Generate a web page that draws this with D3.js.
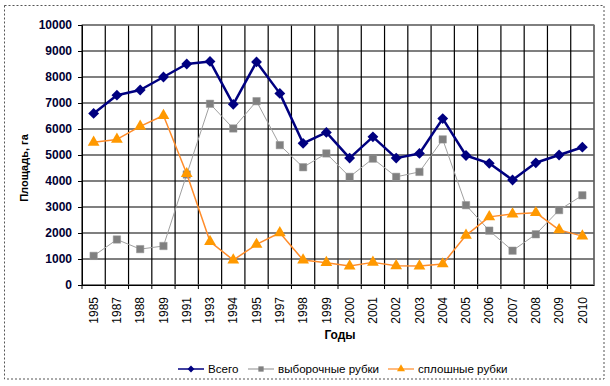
<!DOCTYPE html>
<html><head><meta charset="utf-8">
<script src="https://cdn.jsdelivr.net/npm/d3@7"></script>
<style>body{margin:0;background:#fff}svg{display:block}</style>
</head><body>
<script>
const years = ["1985","1987","1988","1989","1991","1993","1994","1995","1997","1998","1999","2000","2001","2002","2003","2004","2005","2006","2007","2008","2009","2010"];
const total = [6600,7300,7500,8000,8500,8600,6950,8580,7370,5450,5870,4880,5700,4880,5060,6400,4980,4680,4040,4700,5000,5300];
const selective = [1120,1750,1380,1500,4250,6970,6020,7070,5380,4530,5060,4160,4860,4160,4350,5600,3070,2090,1320,1950,2880,3450];
const clear = [5490,5600,6100,6520,4280,1670,960,1560,2010,960,860,730,870,740,730,810,1910,2620,2730,2780,2120,1880];
const yTicks = [0,1000,2000,3000,4000,5000,6000,7000,8000,9000,10000];
const seriesNames = ["Всего","выборочные рубки","сплошные рубки"];

const W=610,H=386;
const svg=d3.select("body").append("svg").attr("width",W).attr("height",H);
const L=82,R=594,T=25,B=285;
const x=d3.scaleBand().domain(years).range([L,R]);
const y=d3.scaleLinear().domain([0,10000]).range([B,T]);

// chart border
svg.append("rect").attr("x",4.5).attr("y",5.5).attr("width",599.5).attr("height",373.5)
  .attr("fill","none").attr("stroke","#555").attr("stroke-dasharray","2,2");

// grid
const g=svg.append("g");
g.selectAll(".hg").data(yTicks).join("line")
  .attr("x1",L).attr("x2",R).attr("y1",d=>y(d)).attr("y2",d=>y(d))
  .attr("stroke","#000").attr("stroke-width",1.2);
const bounds=years.map(d=>x(d)).concat([R]);
g.selectAll(".vg").data(bounds).join("line")
  .attr("x1",d=>d).attr("x2",d=>d).attr("y1",T).attr("y2",B)
  .attr("stroke","#000").attr("stroke-width",1.2);
svg.append("rect").attr("x",L).attr("y",T).attr("width",R-L).attr("height",B-T)
  .attr("fill","none").attr("stroke","#808080").attr("stroke-width",1.2);

// y axis
const ya=d3.axisLeft(y).tickValues(yTicks).tickSize(4).tickFormat(d3.format("d"));
const yg=svg.append("g").attr("transform",`translate(${L},0)`).call(ya);
yg.select(".domain").attr("stroke","#000");
yg.selectAll(".tick line").attr("stroke","#000");
yg.selectAll("text").attr("font-family","Arial, 'Liberation Sans', sans-serif").attr("font-size","12px")
  .attr("font-weight","bold").attr("fill","#000033").attr("dx","-3");

// x axis
const xa=d3.axisBottom(x).tickSize(4).tickSizeOuter(0);
const xg=svg.append("g").attr("transform",`translate(0,${B})`).call(xa);
xg.select(".domain").attr("stroke","#000");
xg.selectAll(".tick line").attr("stroke","#000").attr("transform",d=>`translate(${-x.bandwidth()/2},0)`);
xg.selectAll("text").attr("font-family","Arial, 'Liberation Sans', sans-serif").attr("font-size","12px")
  .attr("fill","#000").attr("transform","rotate(-90)").attr("text-anchor","end")
  .attr("x",-12).attr("y",0).attr("dy","0.35em");

// titles
svg.append("text").attr("transform","translate(28,168) rotate(-90)").attr("text-anchor","middle")
  .attr("font-family","Arial, 'Liberation Sans', sans-serif").attr("font-size","11px").attr("font-weight","bold")
  .text("Площадь, га");
svg.append("text").attr("x",340).attr("y",339).attr("text-anchor","middle")
  .attr("font-family","Arial, 'Liberation Sans', sans-serif").attr("font-size","12px").attr("font-weight","bold")
  .text("Годы");

const cx=d=>x(d)+x.bandwidth()/2;
const line=d3.line().x((v,i)=>cx(years[i])).y(v=>y(v));

const styles=[
  {data:total,color:"#000080",w:2.5,sym:d3.symbolDiamond2,size:75,fill:"#000080"},
  {data:selective,color:"#a0a0a0",w:1,sym:d3.symbolSquare,size:55,fill:"#808080"},
  {data:clear,color:"#ff8c2a",w:1.5,sym:d3.symbolTriangle,size:60,fill:"#ff9900"}
];
[1,2,0].forEach(k=>{
  const s=styles[k];
  svg.append("path").datum(s.data).attr("d",line).attr("fill","none")
    .attr("stroke",s.color).attr("stroke-width",s.w).attr("stroke-linejoin","round");
  svg.append("g").selectAll("path").data(s.data).join("path")
    .attr("transform",(v,i)=>`translate(${cx(years[i])},${y(v)})`)
    .attr("d",d3.symbol().type(s.sym).size(s.size)).attr("fill",s.fill)
    .attr("stroke",k==1?"#999":"none").attr("stroke-width",0.5);
});

// legend
const lg=svg.append("g").attr("font-family","Arial, 'Liberation Sans', sans-serif").attr("font-size","11.6px");
const lx=[178,248,388], tx=[208,278,418];
styles.forEach((s,k)=>{
  lg.append("line").attr("x1",lx[k]).attr("x2",lx[k]+26).attr("y1",369).attr("y2",369)
    .attr("stroke",s.color).attr("stroke-width",k==0?1.5:1.2);
  lg.append("path").attr("transform",`translate(${lx[k]+13},369)`)
    .attr("d",d3.symbol().type(s.sym).size(k==0?30:28)).attr("fill",s.fill);
  lg.append("text").attr("x",tx[k]).attr("y",369).attr("dy","0.35em").text(seriesNames[k]);
});
</script>
</body></html>
